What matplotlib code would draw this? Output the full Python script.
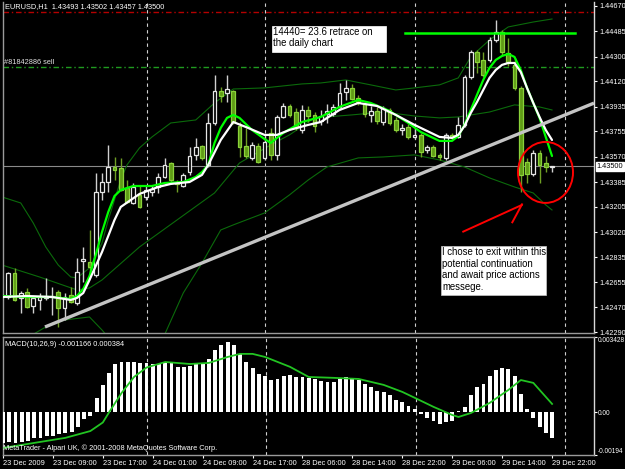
import matplotlib
matplotlib.use("Agg")
import matplotlib.pyplot as plt
from matplotlib.patches import Rectangle, Ellipse
from matplotlib.transforms import blended_transform_factory as btf

plt.rcParams['font.family'] = ['Liberation Sans', 'DejaVu Sans']

# ---------------- data (EURUSD H1, 23-29 Dec 2009) ----------------
opens = [1.42546,1.42546,1.42721,1.42539,1.42582,1.42480,1.42524,1.42539,1.42546,1.42582,
         1.42466,1.42561,1.42502,1.42809,1.42801,1.42707,1.43312,1.43385,1.43495,1.43488,
         1.43342,1.43232,1.43291,1.43276,1.43312,1.43349,1.43422,1.43524,1.43385,1.43356,
         1.43458,1.43583,1.43648,1.43510,1.43816,1.44050,1.44035,1.44050,1.43794,1.43648,
         1.43561,1.43648,1.43561,1.43743,1.43583,1.43860,1.43940,1.43896,1.43765,1.43911,
         1.43875,1.43831,1.43882,1.43882,1.43933,1.44042,1.44072,1.43999,1.43955,1.43875,
         1.43904,1.43823,1.43911,1.43838,1.43765,1.43787,1.43714,1.43729,1.43619,1.43641,
         1.43583,1.43561,1.43729,1.43714,1.43802,1.44152,1.44334,1.44276,1.44276,1.44422,
         1.44480,1.44327,1.44240,1.44072,1.43531,1.43444,1.43597,1.43524,1.43493]
highs = [1.42575,1.42728,1.42758,1.42590,1.42612,1.42553,1.42575,1.42685,1.42619,1.42597,
         1.42575,1.42619,1.42831,1.42911,1.43035,1.43451,1.43451,1.43656,1.43568,1.43561,
         1.43400,1.43378,1.43364,1.43364,1.43356,1.43451,1.43561,1.43531,1.43400,1.43451,
         1.43641,1.43707,1.43656,1.43889,1.44167,1.44079,1.44167,1.44057,1.43823,1.43780,
         1.43677,1.43670,1.43729,1.43780,1.43875,1.43962,1.43955,1.43926,1.43948,1.43940,
         1.43896,1.43911,1.43955,1.43955,1.44108,1.44130,1.44101,1.44021,1.43977,1.43940,
         1.43933,1.43940,1.43926,1.43860,1.43809,1.43809,1.43780,1.43743,1.43656,1.43656,
         1.43597,1.43743,1.43743,1.43860,1.44167,1.44349,1.44349,1.44334,1.44444,1.44568,
         1.44495,1.44437,1.44291,1.44086,1.43561,1.43619,1.43619,1.43575,1.43502]
lows = [1.42524,1.42531,1.42517,1.42429,1.42466,1.42429,1.42451,1.42524,1.42415,1.42327,
        1.42378,1.42502,1.42488,1.42655,1.42692,1.42692,1.43254,1.43312,1.43400,1.43320,
        1.43232,1.43225,1.43196,1.43254,1.43283,1.43305,1.43415,1.43378,1.43312,1.43349,
        1.43437,1.43546,1.43546,1.43495,1.43802,1.43969,1.43969,1.43809,1.43568,1.43561,
        1.43546,1.43524,1.43546,1.43546,1.43546,1.43853,1.43860,1.43765,1.43743,1.43823,
        1.43750,1.43802,1.43816,1.43867,1.43926,1.43984,1.43984,1.43948,1.43860,1.43823,
        1.43809,1.43802,1.43802,1.43750,1.43729,1.43699,1.43699,1.43568,1.43597,1.43568,
        1.43546,1.43546,1.43692,1.43707,1.43787,1.44137,1.44181,1.44152,1.44261,1.44407,
        1.44313,1.44232,1.44057,1.43312,1.43378,1.43429,1.43378,1.43458,1.43457]
closes = [1.42561,1.42721,1.42524,1.42575,1.42473,1.42539,1.42546,1.42553,1.42553,1.42466,
          1.42546,1.42509,1.42728,1.42823,1.42765,1.43312,1.43385,1.43495,1.43473,1.43327,
          1.43239,1.43349,1.43203,1.43327,1.43334,1.43422,1.43510,1.43400,1.43371,1.43437,
          1.43575,1.43641,1.43561,1.43816,1.44050,1.44013,1.44064,1.43823,1.43641,1.43575,
          1.43656,1.43531,1.43677,1.43583,1.43860,1.43940,1.43875,1.43787,1.43911,1.43867,
          1.43794,1.43867,1.43904,1.43933,1.44035,1.44072,1.43991,1.43969,1.43882,1.43904,
          1.43831,1.43926,1.43816,1.43765,1.43780,1.43714,1.43729,1.43604,1.43641,1.43575,
          1.43568,1.43729,1.43714,1.43802,1.44152,1.44334,1.44261,1.44167,1.44422,1.44480,
          1.44334,1.44261,1.44072,1.43437,1.43444,1.43597,1.43510,1.43495,1.43500]

# fast MA (green) and slow MA (white), read at selected bars
ma_fast_idx = [0,4,8,11,12,13,14,15,16,17,18,19,21,24,26,29,31,32,33,34,35,36,37,38,40,42,43,44,45,48,
               51,54,57,59,62,65,67,70,72,73,74,75,76,77,78,79,80,81,82,83,84,85,86,87,88]
ma_fast = [1.42553,1.42546,1.42546,1.42531,1.42553,1.42604,1.42699,1.42853,1.43020,1.43166,
           1.43283,1.43327,1.43356,1.43356,1.43378,1.43385,1.43422,1.43458,1.43510,1.43670,
           1.43780,1.43853,1.43875,1.43853,1.43765,1.43699,1.43670,1.43707,1.43743,1.43823,
           1.43860,1.43933,1.43984,1.43962,1.43904,1.43816,1.43750,1.43685,1.43685,1.43721,
           1.43802,1.43911,1.44021,1.44130,1.44218,1.44276,1.44305,1.44320,1.44298,1.44203,
           1.44072,1.43962,1.43853,1.43714,1.43575]
ma_slow_idx = [0,4,8,11,12,13,14,16,18,19,22,25,27,30,32,33,35,37,39,42,44,46,49,51,54,57,60,63,66,70,
               72,73,74,75,76,77,78,79,80,81,82,83,84,85,86,87,88]
ma_slow = [1.42546,1.42553,1.42546,1.42524,1.42539,1.42575,1.42670,1.42874,1.43108,1.43203,
           1.43298,1.43349,1.43371,1.43385,1.43437,1.43510,1.43692,1.43823,1.43787,1.43729,
           1.43729,1.43765,1.43802,1.43823,1.43911,1.43962,1.43940,1.43875,1.43802,1.43714,
           1.43707,1.43729,1.43794,1.43889,1.43969,1.44057,1.44145,1.44203,1.44240,1.44254,
           1.44254,1.44188,1.44072,1.43962,1.43860,1.43765,1.43692]

# Bollinger bands, read at selected bars
bb_up_idx = [0,3,5,7,9,11,12,14,16,17,18,19,20,22,24,27,31,34,37,42,48,51,55,59,63,66,70,73,75,78,81,85,88]
bb_up = [1.43276,1.43232,1.43086,1.42911,1.42779,1.42692,1.42685,1.42758,1.42940,1.43108,
         1.43254,1.43400,1.43510,1.43634,1.43714,1.43816,1.43838,1.43962,1.44064,1.44072,
         1.44101,1.44108,1.44130,1.44094,1.44057,1.44072,1.44094,1.44145,1.44298,1.44422,
         1.44517,1.44553,1.44575]
bb_mid_idx = [0,6,12,14,16,22,28,34,38,43,46,50,56,61,66,70,73,78,82,86,88]
bb_mid = [1.42779,1.42692,1.42597,1.42612,1.42670,1.42911,1.43108,1.43305,1.43524,1.43656,
          1.43729,1.43853,1.43875,1.43896,1.43867,1.43853,1.43860,1.43896,1.43948,1.43933,1.43911]
bb_low_idx = [0,4,7,10,14,16,18,22,25,26,29,32,35,37,42,46,49,52,57,61,66,70,74,78,82,85,87,88]
bb_low = [1.42196,1.42247,1.42327,1.42378,1.42400,1.42305,1.42196,1.42159,1.42196,1.42269,
          1.42575,1.42794,1.43035,1.43072,1.43159,1.43291,1.43400,1.43495,1.43561,1.43568,
          1.43583,1.43546,1.43495,1.43415,1.43349,1.43305,1.43218,1.43181]

# MACD(10,26,9) histogram and signal
macd = [-0.00139,-0.00135,-0.00138,-0.00133,-0.00129,-0.00118,-0.00115,-0.00107,-0.00107,-0.00098,
        -0.00095,-0.00088,-0.00065,-0.00031,-0.00016,0.00064,0.00125,0.00181,0.00219,0.00228,
        0.00228,0.00228,0.00223,0.00223,0.00220,0.00219,0.00228,0.00223,0.00208,0.00205,
        0.00212,0.00219,0.00219,0.00243,0.00284,0.00307,0.00322,0.00307,0.00266,0.00228,
        0.00203,0.00175,0.00167,0.00147,0.00152,0.00167,0.00170,0.00160,0.00161,0.00157,
        0.00152,0.00144,0.00140,0.00140,0.00151,0.00160,0.00152,0.00147,0.00129,0.00117,
        0.00099,0.00091,0.00079,0.00056,0.00049,0.00029,0.00014,-0.00009,-0.00024,-0.00038,
        -0.00054,-0.00045,-0.00038,0.00004,0.00023,0.00079,0.00114,0.00128,0.00166,0.00193,
        0.00203,0.00196,0.00166,0.00084,0.00014,-0.00027,-0.00065,-0.00095,-0.001166]
sig_idx = [0,5,10,14,16,17,19,21,23,26,30,33,36,38,40,42,46,49,53,57,61,64,66,69,72,73,75,78,81,83,85,86,88]
sig_val = [-0.00162,-0.00139,-0.00116,-0.00085,-0.00046,0.00000,0.00088,0.00161,0.00204,0.00229,
           0.00220,0.00225,0.00252,0.00266,0.00266,0.00252,0.00207,0.00161,0.00157,0.00152,
           0.00125,0.00093,0.00066,0.00025,-0.00012,-0.00021,-0.00003,0.00043,0.00102,0.00147,
           0.00134,0.00102,0.000384]

day_starts = [23, 42, 66, 90]
time_idx = [0, 8, 16, 24, 32, 40, 48, 56, 64, 72, 80, 88]
time_labels = ["23 Dec 2009", "23 Dec 09:00", "23 Dec 17:00", "24 Dec 01:00", "24 Dec 09:00",
               "24 Dec 17:00", "28 Dec 06:00", "28 Dec 14:00", "28 Dec 22:00", "29 Dec 06:00",
               "29 Dec 14:00", "29 Dec 22:00"]
price_ticks = [1.44670, 1.44485, 1.44300, 1.44120, 1.43935, 1.43755, 1.43570, 1.43385,
               1.43205, 1.43020, 1.42835, 1.42655, 1.42470, 1.42290]
macd_ticks = [0.003428, 0.0, -0.00194]
macd_tick_labels = ["0.003428", "0.00", "-0.00194"]
bid = 1.43500
sell_level = 1.44227
stop_level = 1.44624
resist_level = 1.44475
resist_span = (64.5, 91.7)
trend_a = (6.88, 1.42327)
trend_b = (88.0, 1.43836)

# ---------------- figure ----------------
W_PX, H_PX = 625, 469
fig = plt.figure(figsize=(6.25, 4.69), dpi=100, facecolor='black')
XMIN, XMAX = 0.16, 94.72
ax = fig.add_axes([3/W_PX, 1-333/H_PX, 591/W_PX, 331/H_PX], facecolor='black')
ax2 = fig.add_axes([3/W_PX, 1-455/H_PX, 591/W_PX, 118/H_PX], facecolor='black')
ax.set_xlim(XMIN, XMAX)
ax2.set_xlim(XMIN, XMAX)
ax.set_ylim(1.42283, 1.44699)
ax2.set_ylim(-0.00194, 0.003428)

for a in (ax, ax2):
    for s in a.spines.values():
        s.set_color('#9a9a9a')
        s.set_linewidth(1.0)
    a.spines['right'].set_color('#d8d8d8')
ax.spines['top'].set_visible(False)

FS = 5.3
# price axis
ax.yaxis.tick_right()
ax.set_yticks(price_ticks)
ax.set_yticklabels(["%.5f" % p for p in price_ticks])
ax.tick_params(axis='y', colors='white', labelsize=FS, length=2.5, width=0.8, pad=1.5)
ax.set_xticks([])

ax2.yaxis.tick_right()
ax2.set_yticks(macd_ticks)
labs = ax2.set_yticklabels(macd_tick_labels)
labs[0].set_va('top')
labs[2].set_va('bottom')
ax2.tick_params(axis='y', colors='white', labelsize=4.7, length=2.0, width=0.8, pad=1.0)
ax2.set_xticks(time_idx)
xl = ax2.set_xticklabels(time_labels)
for t in xl:
    t.set_ha('left')
ax2.tick_params(axis='x', colors='white', labelsize=FS, length=2.5, width=0.8, pad=1.0)

# period separators
for a in (ax, ax2):
    for d in day_starts:
        a.axvline(d + 0.15, color='#d0d0d0', lw=0.8, ls=(0, (3, 3)), zorder=1)

# horizontal levels
ax.axhline(stop_level, color='#b40000', lw=1.0, ls=(0, (4, 2, 1, 2)), zorder=2)
ax.axhline(sell_level, color='#1f9a1f', lw=1.0, ls=(0, (4, 2, 1, 2)), zorder=2)
ax.axhline(bid, color='#8a8a8a', lw=0.8, zorder=2)

# Bollinger bands
for bi, bv in ((bb_up_idx, bb_up), (bb_mid_idx, bb_mid), (bb_low_idx, bb_low)):
    ax.plot(bi, bv, color='#0b6a0b', lw=0.8, zorder=2)

# candles
CW = 0.58
for i in range(len(opens)):
    o, h, l, c = opens[i], highs[i], lows[i], closes[i]
    bull = c >= o
    wc = '#d0d0d0' if bull else '#6f9f24'
    ax.vlines(i, l, h, color=wc, lw=1.0, zorder=3)
    bot = min(o, c)
    ht = abs(c - o)
    if bull:
        ax.add_patch(Rectangle((i - CW/2, bot), CW, ht, facecolor='black',
                               edgecolor='#e6e6e6', lw=0.9, zorder=3.5))
    else:
        ax.add_patch(Rectangle((i - CW/2, bot), CW, ht, facecolor='#5f9b16',
                               edgecolor='#8ad23a', lw=0.9, zorder=3.5))

# moving averages
ax.plot(ma_fast_idx, ma_fast, color='#00ff00', lw=1.6, zorder=4, solid_capstyle='round',
        solid_joinstyle='round')
ax.plot(ma_slow_idx, ma_slow, color='#ffffff', lw=1.6, zorder=4.1, solid_capstyle='round',
        solid_joinstyle='round')

# trendline (ray to the right edge)
slope = (trend_b[1] - trend_a[1]) / (trend_b[0] - trend_a[0])
ax.plot([trend_a[0], XMAX], [trend_a[1], trend_a[1] + slope * (XMAX - trend_a[0])],
        color='#c4c4c4', lw=2.4, zorder=5, solid_capstyle='butt')

# resistance line
ax.plot(list(resist_span), [resist_level, resist_level], color='#00ff00', lw=1.8, zorder=5)

# red circle and arrow
ax.add_patch(Ellipse((86.96, 1.43455), 8.8, 0.00445, fill=False, edgecolor='#ff0000', lw=1.4, zorder=6))
ax.plot([73.8, 83.15], [1.43023, 1.43217], color='#ff0000', lw=1.4, zorder=6)
ax.plot([81.65, 83.2], [1.43091, 1.43222], color='#ff0000', lw=1.4, zorder=6)

# text boxes
ax.add_patch(Rectangle((43.2, 1.44334), 18.24, 0.00190, facecolor='white', edgecolor='white',
                       lw=0.5, zorder=7))
ax.text(43.4, 1.44517, "14440= 23.6 retrace on\nthe daily chart", fontsize=6.9, color='black',
        va='top', ha='left', linespacing=1.15, zorder=8)
ax.add_patch(Rectangle((70.24, 1.42560), 16.8, 0.00358, facecolor='white', edgecolor='#c8c8c8',
                       lw=0.5, zorder=7))
ax.text(70.4, 1.42911, "I chose to exit within this\npotential continuation\nand await price actions\nmessege.",
        fontsize=6.9, color='black', va='top', ha='left', linespacing=1.2, zorder=8)

# current price label on axis
ax.text(1.004, bid, "%.5f" % bid, transform=btf(ax.transAxes, ax.transData), fontsize=FS,
        color='black', va='center', ha='left', zorder=9, clip_on=False,
        bbox=dict(facecolor='white', edgecolor='white', pad=0.6))

# chart labels
fig.text(5/W_PX, 1-7/H_PX, "EURUSD,H1  %.5f %.5f %.5f %.5f" % (opens[-1], highs[-1], lows[-1], closes[-1]),
         color='white', fontsize=FS, va='center', ha='left')
ax.text(0.3, sell_level + 0.00005, "#81842886 sell", color='#e0e0e0', fontsize=FS, va='bottom', ha='left', zorder=8)

# MACD
ax2.bar(range(len(macd)), macd, width=0.62, color='white', zorder=3)
ax2.plot(sig_idx, sig_val, color='#22c422', lw=1.3, zorder=4, solid_joinstyle='round')
fig.text(5/W_PX, 1-344/H_PX, "MACD(10,26,9) %.6f %.6f" % (macd[-1], sig_val[-1]),
         color='white', fontsize=FS, va='center', ha='left')
fig.text(3/W_PX, 1-448/H_PX, "MetaTrader - Alpari UK, \u00a9 2001-2008 MetaQuotes Software Corp.",
         color='white', fontsize=FS, va='center', ha='left', zorder=10)

fig.savefig("out.png", dpi=100, facecolor='black')
